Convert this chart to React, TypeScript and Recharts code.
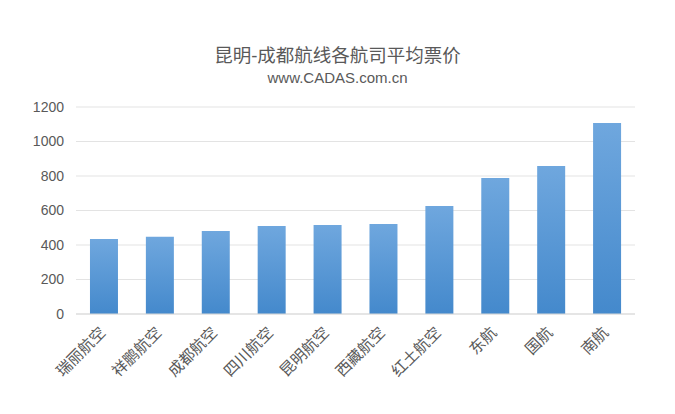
import React from 'react';
import { BarChart, Bar, XAxis, YAxis, CartesianGrid } from 'recharts';

const airlines = ['瑞丽航空', '祥鹏航空', '成都航空', '四川航空', '昆明航空', '西藏航空', '红土航空', '东航', '国航', '南航'];
const prices = [435, 448, 481, 510, 516, 522, 626, 788, 858, 1107];
const yTicks = [0, 200, 400, 600, 800, 1000, 1200];

const data = airlines.map((name, i) => ({ name, price: prices[i] }));

const FONT = '"Liberation Sans", "Noto Sans CJK SC", sans-serif';

const XTick = (props: any) => {
  const { x, y, payload } = props;
  return (
    <g transform={`translate(${x - 1},${y + 8}) rotate(-45)`}>
      <text x={0} y={0} dy={5} textAnchor="end" fill="#595959" fontSize={15.5} fontFamily={FONT}>
        {payload.value}
      </text>
    </g>
  );
};

export default function App() {
  return (
    <div style={{ position: 'absolute', left: 0, top: 0, width: 675, height: 414, background: '#fff' }}>
      <div style={{ position: 'absolute', left: 0, top: 41, width: 675, textAlign: 'center', fontFamily: FONT, fontSize: 18.5, color: '#595959' }}>
        昆明-成都航线各航司平均票价
      </div>
      <div style={{ position: 'absolute', left: 0, top: 69, width: 675, textAlign: 'center', fontFamily: FONT, fontSize: 15, color: '#595959' }}>
        www.CADAS.com.cn
      </div>
      <div style={{ position: 'absolute', left: 0, top: 0 }}>
        <BarChart width={675} height={414} data={data} margin={{ top: 107, right: 40, bottom: 0, left: 0 }} barCategoryGap="25%">
          <defs>
            <linearGradient id="barGrad" x1="0" y1="0" x2="0" y2="1">
              <stop offset="0%" stopColor="#6fa7de" />
              <stop offset="100%" stopColor="#4489cc" />
            </linearGradient>
          </defs>
          <CartesianGrid vertical={false} stroke="#e3e3e3" />
          <XAxis dataKey="name" height={100} tick={<XTick />} tickLine={false} axisLine={{ stroke: '#d9d9d9' }} interval={0} />
          <YAxis width={76} domain={[0, 1200]} ticks={yTicks} tickLine={false} axisLine={false} tickMargin={6}
            tick={{ fill: '#595959', fontSize: 14, fontFamily: FONT }} />
          <Bar dataKey="price" fill="url(#barGrad)" isAnimationActive={false} />
        </BarChart>
      </div>
    </div>
  );
}
